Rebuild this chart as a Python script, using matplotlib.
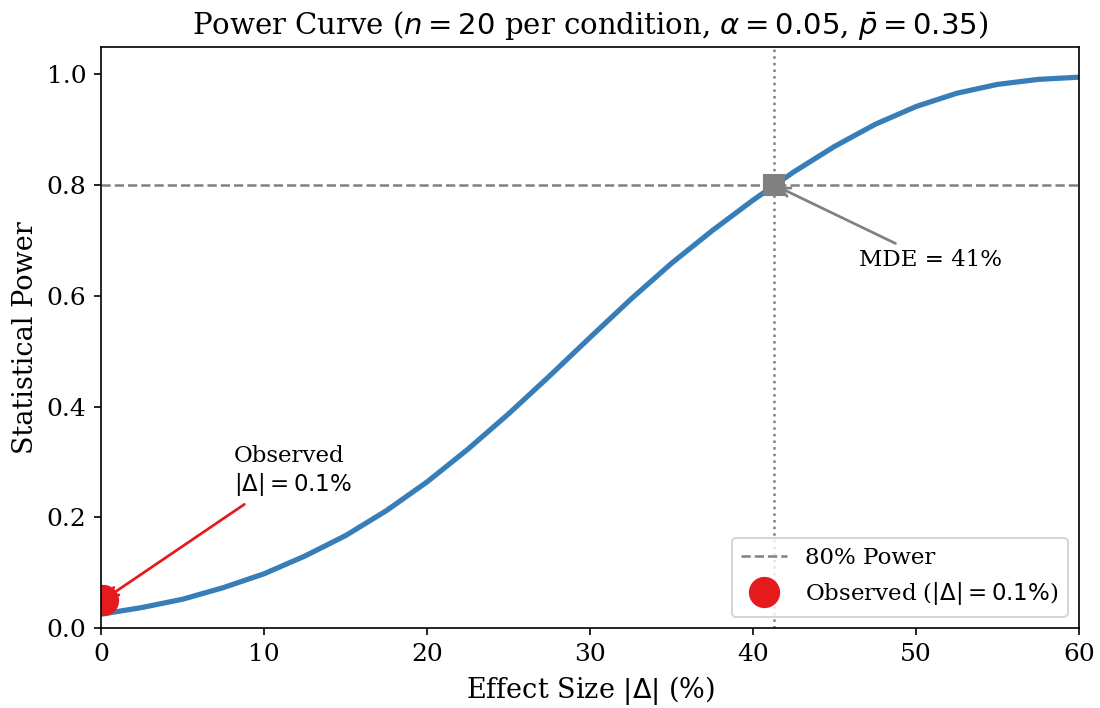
import matplotlib
matplotlib.use("Agg")
import matplotlib.pyplot as plt

# effect size (%) and power
effect = [0, 2.5, 5, 7.5, 10, 12.5, 15, 17.5, 20, 22.5, 25, 27.5, 30,
          32.5, 35, 37.5, 40, 42.5, 45, 47.5, 50, 52.5, 55, 57.5, 60]
power = [0.025, 0.037, 0.052, 0.073, 0.098, 0.130, 0.167, 0.212, 0.264,
         0.323, 0.387, 0.455, 0.525, 0.594, 0.659, 0.718, 0.773, 0.824,
         0.870, 0.910, 0.942, 0.966, 0.982, 0.991, 0.995]

target_power = 0.8
mde = 41.3
obs_effect = 0.1
obs_power = 0.05

plt.rcParams['font.family'] = 'serif'
plt.rcParams['mathtext.fontset'] = 'dejavusans'

fig = plt.figure(figsize=(1100 / 150, 708 / 150), dpi=150)
ax = fig.add_axes([0.092, 0.113, 0.889, 0.821])

ax.plot(effect, power, color='#377eb8', lw=2.5, solid_joinstyle='round')
ax.axhline(target_power, color='gray', ls='--', lw=1.2, label='80% Power')
ax.axvline(mde, color='gray', ls=':', lw=1.2)
ax.plot([mde], [target_power], 's', color='gray', ms=10)
ax.annotate('MDE = 41%', xy=(mde, target_power), xytext=(50.9, 0.664),
            ha='center', va='center', fontsize=11,
            arrowprops=dict(arrowstyle='->', color='gray', lw=1.3))

ax.plot([obs_effect], [obs_power], 'o', color='#e41a1c', ms=14,
        label=r'Observed ($|\Delta| = 0.1\%$)')
ax.annotate('Observed\n' + r'$|\Delta| = 0.1\%$', xy=(obs_effect, obs_power),
            xytext=(8.15, 0.283), ha='left', va='center', fontsize=11,
            arrowprops=dict(arrowstyle='->', color='#e41a1c', lw=1.3))

ax.set_xlim(0, 60)
ax.set_ylim(0, 1.05)
ax.tick_params(labelsize=12)
ax.set_xlabel(r'Effect Size $|\Delta|$ (%)', fontsize=13)
ax.set_ylabel('Statistical Power', fontsize=13)
ax.set_title(r'Power Curve ($n = 20$ per condition, $\alpha = 0.05$, $\bar{p} = 0.35$)',
             fontsize=14)
ax.legend(loc='lower right', fontsize=11)

fig.savefig('out.png', dpi=150)
